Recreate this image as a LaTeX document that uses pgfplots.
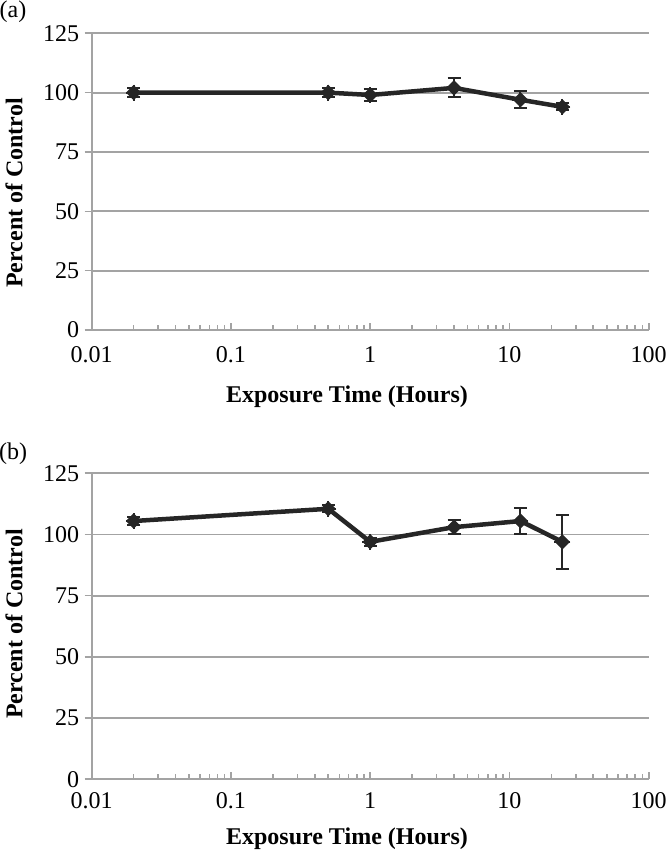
\documentclass[border=0pt]{standalone}
\usepackage{pgfplots}
\pgfplotsset{compat=1.18}
\usepackage{fontspec}
\setmainfont{Liberation Serif}
\definecolor{serc}{HTML}{262626}
\definecolor{gridc}{HTML}{A3A3A3}
\pgfdeclareplotmark{blob}{%
  \pgfpathmoveto{\pgfqpoint{0pt}{0.8\pgfplotmarksize}}%
  \pgfpathlineto{\pgfqpoint{0.8\pgfplotmarksize}{0pt}}%
  \pgfpathlineto{\pgfqpoint{0pt}{-0.8\pgfplotmarksize}}%
  \pgfpathlineto{\pgfqpoint{-0.8\pgfplotmarksize}{0pt}}%
  \pgfpathclose
  \pgfusepathqfillstroke
  \pgfpathcircle{\pgfpointorigin}{0.62\pgfplotmarksize}\pgfusepathqfill
  \pgfpathmoveto{\pgfqpoint{0pt}{\pgfplotmarksize}}\pgfpathlineto{\pgfqpoint{0pt}{-\pgfplotmarksize}}%
  \pgfpathmoveto{\pgfqpoint{\pgfplotmarksize}{0pt}}\pgfpathlineto{\pgfqpoint{-\pgfplotmarksize}{0pt}}%
  \pgfusepathqstroke
}
\begin{document}
\begin{tikzpicture}[x=1pt,y=1pt]
\path[use as bounding box] (0,0) rectangle (666,850);
\begin{axis}[scale only axis, width=557pt, height=296.7pt, at={(91.7pt,520pt)}, anchor=south west,
    xmode=log, xmin=0.01, xmax=100,
    ymin=0, ymax=125, ytick={0,25,...,125},
    xtick={0.01,0.1,1,10,100},
    xticklabels={0.01,0.1,1,10,100},
    minor xtick={0.02,0.03,0.04,0.05,0.06,0.07,0.08,0.09,0.2,0.3,0.4,0.5,0.6,0.7,0.8,0.9,2,3,4,5,6,7,8,9,20,30,40,50,60,70,80,90},
    axis lines=left, axis line style={-, gridc, line width=2.2pt},
    ymajorgrids, major grid style={gridc, line width=1.8pt},
    xtick align=inside, ytick align=outside,
    major tick length=7pt, minor tick length=5pt,
    every tick/.style={gridc, line width=1.6pt},
    /pgf/number format/assume math mode=true,
    tick label style={font=\fontsize{24}{28}\selectfont, text=black},
    yticklabel style={xshift=-2pt},
    xticklabel style={yshift=-13pt},
    clip=false]
\addplot[serc, line width=4.5pt, mark=blob, mark size=8pt,
    mark options={solid, serc, fill=serc, line width=1.8pt},
    error bars/y dir=both, error bars/y explicit,
    error bars/error bar style={serc, line width=2pt},
    error bars/error mark options={rotate=90, serc, mark size=6.5pt, line width=2pt}] coordinates {
(0.02,100) +- (0,2)
(0.5,100) +- (0,2)
(1,99) +- (0,2.5)
(4,102) +- (0,4)
(12,97) +- (0,3.5)
(24,94) +- (0,1.5)
};
\end{axis}
\begin{axis}[scale only axis, width=557pt, height=306pt, at={(91.7pt,70.7pt)}, anchor=south west,
    xmode=log, xmin=0.01, xmax=100,
    ymin=0, ymax=125, ytick={0,25,...,125},
    xtick={0.01,0.1,1,10,100},
    xticklabels={0.01,0.1,1,10,100},
    minor xtick={0.02,0.03,0.04,0.05,0.06,0.07,0.08,0.09,0.2,0.3,0.4,0.5,0.6,0.7,0.8,0.9,2,3,4,5,6,7,8,9,20,30,40,50,60,70,80,90},
    axis lines=left, axis line style={-, gridc, line width=2.2pt},
    ymajorgrids, major grid style={gridc, line width=1.8pt},
    xtick align=inside, ytick align=outside,
    major tick length=7pt, minor tick length=5pt,
    every tick/.style={gridc, line width=1.6pt},
    /pgf/number format/assume math mode=true,
    tick label style={font=\fontsize{24}{28}\selectfont, text=black},
    yticklabel style={xshift=-2pt},
    xticklabel style={yshift=-10pt},
    clip=false]
\addplot[serc, line width=4.5pt, mark=blob, mark size=8pt,
    mark options={solid, serc, fill=serc, line width=1.8pt},
    error bars/y dir=both, error bars/y explicit,
    error bars/error bar style={serc, line width=2pt},
    error bars/error mark options={rotate=90, serc, mark size=6.5pt, line width=2pt}] coordinates {
(0.02,105.5) +- (0,1.5)
(0.5,110.5) +- (0,1.5)
(1,97) +- (0,1.5)
(4,103) +- (0,3)
(12,105.5) +- (0,5.5)
(24,97) +- (0,11)
};
\end{axis}
\node[font=\fontsize{24}{28}\selectfont] at (13,838) {(a)};
\node[font=\fontsize{24}{28}\selectfont] at (13,396) {(b)};
\node[font=\fontsize{24}{28}\selectfont\bfseries, rotate=90] at (14,657) {Percent of Control};
\node[font=\fontsize{24}{28}\selectfont\bfseries, rotate=90] at (14,226) {Percent of Control};
\node[font=\fontsize{24}{28}\selectfont\bfseries] at (347,453) {Exposure Time (Hours)};
\node[font=\fontsize{24}{28}\selectfont\bfseries] at (347,11) {Exposure Time (Hours)};
\end{tikzpicture}
\end{document}
